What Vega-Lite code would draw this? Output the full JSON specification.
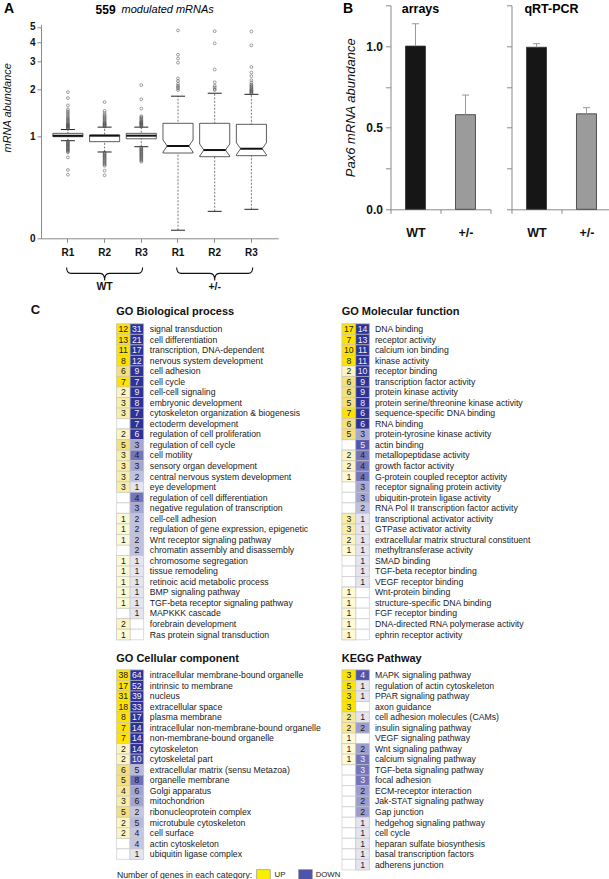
{
 "$schema": "https://vega.github.io/schema/vega-lite/v6.json",
 "background": "white",
 "padding": {"top": 1.3, "left": 1, "right": 0, "bottom": 0},
 "config": {
  "font": "Liberation Sans",
  "view": {"stroke": null},
  "axis": {"grid": false, "labelColor": "#111111", "titleColor": "#111111"},
  "title": {"color": "#111111"}
 },
 "datasets": {
  "boxes": [
   {"k": "WT R1", "lo": 0.933, "q1": 0.99, "med": 1.005, "q3": 1.04, "hi": 1.10},
   {"k": "WT R2", "lo": 0.79, "q1": 0.92, "med": 1.005, "q3": 1.015, "hi": 1.14},
   {"k": "WT R3", "lo": 0.854, "q1": 0.96, "med": 1.005, "q3": 1.04, "hi": 1.14},
   {"k": "+/- R1", "lo": 0.249, "q1": 0.778, "med": 0.863, "q3": 1.206, "hi": 1.80},
   {"k": "+/- R2", "lo": 0.329, "q1": 0.737, "med": 0.813, "q3": 1.206, "hi": 1.88},
   {"k": "+/- R3", "lo": 0.339, "q1": 0.748, "med": 0.829, "q3": 1.188, "hi": 1.85}
  ],
  "outliers": [
   {"k": "WT R1", "v": 1.11}, {"k": "WT R1", "v": 1.12}, {"k": "WT R1", "v": 1.13}, {"k": "WT R1", "v": 1.14}, {"k": "WT R1", "v": 1.15}, {"k": "WT R1", "v": 1.16}, {"k": "WT R1", "v": 1.17}, {"k": "WT R1", "v": 1.18}, {"k": "WT R1", "v": 1.19}, {"k": "WT R1", "v": 1.2}, {"k": "WT R1", "v": 1.22}, {"k": "WT R1", "v": 1.24}, {"k": "WT R1", "v": 1.26}, {"k": "WT R1", "v": 1.28}, {"k": "WT R1", "v": 1.3}, {"k": "WT R1", "v": 1.32}, {"k": "WT R1", "v": 1.35}, {"k": "WT R1", "v": 1.38}, {"k": "WT R1", "v": 1.41}, {"k": "WT R1", "v": 1.44}, {"k": "WT R1", "v": 1.48}, {"k": "WT R1", "v": 1.57}, {"k": "WT R1", "v": 1.75}, {"k": "WT R1", "v": 1.91},
   {"k": "WT R1", "v": 0.925}, {"k": "WT R1", "v": 0.915}, {"k": "WT R1", "v": 0.905}, {"k": "WT R1", "v": 0.895}, {"k": "WT R1", "v": 0.885}, {"k": "WT R1", "v": 0.875}, {"k": "WT R1", "v": 0.865}, {"k": "WT R1", "v": 0.855}, {"k": "WT R1", "v": 0.845}, {"k": "WT R1", "v": 0.835}, {"k": "WT R1", "v": 0.825}, {"k": "WT R1", "v": 0.815}, {"k": "WT R1", "v": 0.805}, {"k": "WT R1", "v": 0.795}, {"k": "WT R1", "v": 0.785}, {"k": "WT R1", "v": 0.73}, {"k": "WT R1", "v": 0.606}, {"k": "WT R1", "v": 0.565},
   {"k": "WT R2", "v": 1.15}, {"k": "WT R2", "v": 1.16}, {"k": "WT R2", "v": 1.17}, {"k": "WT R2", "v": 1.18}, {"k": "WT R2", "v": 1.19}, {"k": "WT R2", "v": 1.2}, {"k": "WT R2", "v": 1.21}, {"k": "WT R2", "v": 1.22}, {"k": "WT R2", "v": 1.24}, {"k": "WT R2", "v": 1.26}, {"k": "WT R2", "v": 1.28}, {"k": "WT R2", "v": 1.3}, {"k": "WT R2", "v": 1.32}, {"k": "WT R2", "v": 1.34}, {"k": "WT R2", "v": 1.37}, {"k": "WT R2", "v": 1.4}, {"k": "WT R2", "v": 1.45}, {"k": "WT R2", "v": 1.65},
   {"k": "WT R2", "v": 0.785}, {"k": "WT R2", "v": 0.775}, {"k": "WT R2", "v": 0.765}, {"k": "WT R2", "v": 0.755}, {"k": "WT R2", "v": 0.745}, {"k": "WT R2", "v": 0.735}, {"k": "WT R2", "v": 0.725}, {"k": "WT R2", "v": 0.715}, {"k": "WT R2", "v": 0.705}, {"k": "WT R2", "v": 0.695}, {"k": "WT R2", "v": 0.685}, {"k": "WT R2", "v": 0.675}, {"k": "WT R2", "v": 0.665}, {"k": "WT R2", "v": 0.655}, {"k": "WT R2", "v": 0.645}, {"k": "WT R2", "v": 0.6}, {"k": "WT R2", "v": 0.56},
   {"k": "WT R3", "v": 1.15}, {"k": "WT R3", "v": 1.16}, {"k": "WT R3", "v": 1.17}, {"k": "WT R3", "v": 1.18}, {"k": "WT R3", "v": 1.19}, {"k": "WT R3", "v": 1.2}, {"k": "WT R3", "v": 1.21}, {"k": "WT R3", "v": 1.22}, {"k": "WT R3", "v": 1.23}, {"k": "WT R3", "v": 1.24}, {"k": "WT R3", "v": 1.26}, {"k": "WT R3", "v": 1.28}, {"k": "WT R3", "v": 1.3}, {"k": "WT R3", "v": 1.32}, {"k": "WT R3", "v": 1.34}, {"k": "WT R3", "v": 1.5}, {"k": "WT R3", "v": 1.72}, {"k": "WT R3", "v": 2.12},
   {"k": "WT R3", "v": 0.845}, {"k": "WT R3", "v": 0.835}, {"k": "WT R3", "v": 0.825}, {"k": "WT R3", "v": 0.815}, {"k": "WT R3", "v": 0.805}, {"k": "WT R3", "v": 0.795}, {"k": "WT R3", "v": 0.785}, {"k": "WT R3", "v": 0.775}, {"k": "WT R3", "v": 0.765}, {"k": "WT R3", "v": 0.755}, {"k": "WT R3", "v": 0.745}, {"k": "WT R3", "v": 0.735}, {"k": "WT R3", "v": 0.725}, {"k": "WT R3", "v": 0.715}, {"k": "WT R3", "v": 0.705}, {"k": "WT R3", "v": 0.695}, {"k": "WT R3", "v": 0.685},
   {"k": "+/- R1", "v": 1.97}, {"k": "+/- R1", "v": 2.02}, {"k": "+/- R1", "v": 2.06}, {"k": "+/- R1", "v": 2.1}, {"k": "+/- R1", "v": 2.16}, {"k": "+/- R1", "v": 2.25}, {"k": "+/- R1", "v": 2.34}, {"k": "+/- R1", "v": 2.95}, {"k": "+/- R1", "v": 3.14}, {"k": "+/- R1", "v": 3.32}, {"k": "+/- R1", "v": 4.75},
   {"k": "+/- R2", "v": 1.97}, {"k": "+/- R2", "v": 2.0}, {"k": "+/- R2", "v": 2.05}, {"k": "+/- R2", "v": 2.1}, {"k": "+/- R2", "v": 2.21}, {"k": "+/- R2", "v": 2.67}, {"k": "+/- R2", "v": 3.92}, {"k": "+/- R2", "v": 4.7},
   {"k": "+/- R3", "v": 1.87}, {"k": "+/- R3", "v": 1.89}, {"k": "+/- R3", "v": 1.91}, {"k": "+/- R3", "v": 1.93}, {"k": "+/- R3", "v": 1.95}, {"k": "+/- R3", "v": 1.97}, {"k": "+/- R3", "v": 1.99}, {"k": "+/- R3", "v": 2.02}, {"k": "+/- R3", "v": 2.05}, {"k": "+/- R3", "v": 2.08}, {"k": "+/- R3", "v": 2.11}, {"k": "+/- R3", "v": 2.14}, {"k": "+/- R3", "v": 2.2}, {"k": "+/- R3", "v": 2.28}, {"k": "+/- R3", "v": 2.42}, {"k": "+/- R3", "v": 2.55}, {"k": "+/- R3", "v": 2.77}, {"k": "+/- R3", "v": 3.81}, {"k": "+/- R3", "v": 4.68}
  ],
  "pax": [
   {"panel": "arrays", "g": "WT", "v": 1.0, "err": 1.137},
   {"panel": "arrays", "g": "+/-", "v": 0.58, "err": 0.70},
   {"panel": "qRT", "g": "WT", "v": 0.993, "err": 1.015},
   {"panel": "qRT", "g": "+/-", "v": 0.585, "err": 0.623}
  ],
  "bp": [
   {"term": "signal transduction", "UP": 12, "DOWN": 31},
   {"term": "cell differentiation", "UP": 13, "DOWN": 21},
   {"term": "transcription, DNA-dependent", "UP": 11, "DOWN": 17},
   {"term": "nervous system development", "UP": 8, "DOWN": 12},
   {"term": "cell adhesion", "UP": 6, "DOWN": 9},
   {"term": "cell cycle", "UP": 7, "DOWN": 7},
   {"term": "cell-cell signaling", "UP": 2, "DOWN": 9},
   {"term": "embryonic development", "UP": 3, "DOWN": 8},
   {"term": "cytoskeleton organization  & biogenesis", "UP": 3, "DOWN": 7},
   {"term": "ectoderm development", "UP": null, "DOWN": 7},
   {"term": "regulation of cell proliferation", "UP": 2, "DOWN": 6},
   {"term": "regulation of cell cycle", "UP": 5, "DOWN": 3},
   {"term": "cell motility", "UP": 3, "DOWN": 4},
   {"term": "sensory organ development", "UP": 3, "DOWN": 3},
   {"term": "central nervous system development", "UP": 3, "DOWN": 2},
   {"term": "eye development", "UP": 3, "DOWN": 1},
   {"term": "regulation of cell differentiation", "UP": null, "DOWN": 4},
   {"term": "negative regulation of transcription", "UP": null, "DOWN": 3},
   {"term": "cell-cell adhesion", "UP": 1, "DOWN": 2},
   {"term": "regulation of gene expression, epigenetic", "UP": 1, "DOWN": 2},
   {"term": "Wnt receptor signaling pathway", "UP": 1, "DOWN": 2},
   {"term": "chromatin assembly and disassembly", "UP": null, "DOWN": 2},
   {"term": "chromosome segregation", "UP": 1, "DOWN": 1},
   {"term": "tissue remodeling", "UP": 1, "DOWN": 1},
   {"term": "retinoic acid metabolic process", "UP": 1, "DOWN": 1},
   {"term": "BMP signaling pathway", "UP": 1, "DOWN": 1},
   {"term": "TGF-beta receptor signaling pathway", "UP": 1, "DOWN": 1},
   {"term": "MAPKKK cascade", "UP": null, "DOWN": 1},
   {"term": "forebrain development", "UP": 2, "DOWN": null},
   {"term": "Ras protein signal transduction", "UP": 1, "DOWN": null}
  ],
  "mf": [
   {"term": "DNA binding", "UP": 17, "DOWN": 14},
   {"term": "receptor activity", "UP": 7, "DOWN": 13},
   {"term": "calcium ion binding", "UP": 10, "DOWN": 11},
   {"term": "kinase activity", "UP": 8, "DOWN": 11},
   {"term": "receptor binding", "UP": 2, "DOWN": 10},
   {"term": "transcription factor activity", "UP": 6, "DOWN": 9},
   {"term": "protein kinase activity", "UP": 6, "DOWN": 9},
   {"term": "protein serine/threonine kinase activity", "UP": 5, "DOWN": 8},
   {"term": "sequence-specific DNA binding", "UP": 7, "DOWN": 6},
   {"term": "RNA binding", "UP": 6, "DOWN": 6},
   {"term": "protein-tyrosine kinase activity", "UP": 5, "DOWN": 3},
   {"term": "actin binding", "UP": null, "DOWN": 5},
   {"term": "metallopeptidase activity", "UP": 2, "DOWN": 4},
   {"term": "growth factor activity", "UP": 2, "DOWN": 4},
   {"term": "G-protein coupled receptor activity", "UP": 1, "DOWN": 4},
   {"term": "receptor signaling protein activity", "UP": null, "DOWN": 3},
   {"term": "ubiquitin-protein ligase activity", "UP": null, "DOWN": 3},
   {"term": "RNA Pol II transcription factor activity", "UP": null, "DOWN": 2},
   {"term": "transcriptional activator activity", "UP": 3, "DOWN": 1},
   {"term": "GTPase activator activity", "UP": 3, "DOWN": 1},
   {"term": "extracellular matrix structural constituent", "UP": 2, "DOWN": 1},
   {"term": "methyltransferase activity", "UP": 1, "DOWN": 1},
   {"term": "SMAD binding", "UP": null, "DOWN": 1},
   {"term": "TGF-beta receptor binding", "UP": null, "DOWN": 1},
   {"term": "VEGF receptor binding", "UP": null, "DOWN": 1},
   {"term": "Wnt-protein binding", "UP": 1, "DOWN": null},
   {"term": "structure-specific DNA binding", "UP": 1, "DOWN": null},
   {"term": "FGF receptor binding", "UP": 1, "DOWN": null},
   {"term": "DNA-directed RNA polymerase activity", "UP": 1, "DOWN": null},
   {"term": "ephrin receptor activity", "UP": 1, "DOWN": null}
  ],
  "cc": [
   {"term": "intracellular membrane-bound organelle", "UP": 38, "DOWN": 64},
   {"term": "intrinsic to membrane", "UP": 17, "DOWN": 52},
   {"term": "nucleus", "UP": 31, "DOWN": 39},
   {"term": "extracellular space", "UP": 18, "DOWN": 33},
   {"term": "plasma membrane", "UP": 8, "DOWN": 17},
   {"term": "intracellular non-membrane-bound organelle", "UP": 7, "DOWN": 14},
   {"term": "non-membrane-bound organelle", "UP": 7, "DOWN": 14},
   {"term": "cytoskeleton", "UP": 2, "DOWN": 14},
   {"term": "cytoskeletal part", "UP": 2, "DOWN": 10},
   {"term": "extracellular matrix (sensu Metazoa)", "UP": 6, "DOWN": 5},
   {"term": "organelle membrane", "UP": 5, "DOWN": 8},
   {"term": "Golgi apparatus", "UP": 4, "DOWN": 6},
   {"term": "mitochondrion", "UP": 3, "DOWN": 6},
   {"term": "ribonucleoprotein complex", "UP": 5, "DOWN": 2},
   {"term": "microtubule cytoskeleton", "UP": 2, "DOWN": 5},
   {"term": "cell surface", "UP": 2, "DOWN": 4},
   {"term": "actin cytoskeleton", "UP": null, "DOWN": 4},
   {"term": "ubiquitin ligase complex", "UP": null, "DOWN": 1}
  ],
  "kegg": [
   {"term": "MAPK signaling pathway", "UP": 3, "DOWN": 4},
   {"term": "regulation of actin cytoskeleton", "UP": 5, "DOWN": 1},
   {"term": "PPAR signaling pathway", "UP": 3, "DOWN": 1},
   {"term": "axon guidance", "UP": 3, "DOWN": null},
   {"term": "cell adhesion molecules (CAMs)", "UP": 2, "DOWN": 1},
   {"term": "insulin signaling pathway", "UP": 2, "DOWN": 2},
   {"term": "VEGF signaling pathway", "UP": 1, "DOWN": null},
   {"term": "Wnt signaling pathway", "UP": 1, "DOWN": 2},
   {"term": "calcium signaling pathway", "UP": 1, "DOWN": 3},
   {"term": "TGF-beta signaling pathway", "UP": null, "DOWN": 3},
   {"term": "focal adhesion", "UP": null, "DOWN": 3},
   {"term": "ECM-receptor interaction", "UP": null, "DOWN": 2},
   {"term": "Jak-STAT signaling pathway", "UP": null, "DOWN": 2},
   {"term": "Gap junction", "UP": null, "DOWN": 2},
   {"term": "hedgehog signaling pathway", "UP": null, "DOWN": 1},
   {"term": "cell cycle", "UP": null, "DOWN": 1},
   {"term": "heparan sulfate biosynthesis", "UP": null, "DOWN": 1},
   {"term": "basal transcription factors", "UP": null, "DOWN": 1},
   {"term": "adherens junction", "UP": null, "DOWN": 1}
  ]
 },
 "vconcat": [
  {
   "spacing": 63.5,
   "hconcat": [
    {
     "spacing": 5,
     "vconcat": [
      {
       "width": 237.3,
       "height": 8,
       "layer": [
        {
         "data": {"values": [{"t": "A"}]},
         "mark": {"type": "text", "fontSize": 14, "fontWeight": "bold", "align": "left", "baseline": "middle", "dx": -64},
         "encoding": {"x": {"datum": "WT R1", "type": "nominal", "scale": {"type": "band", "domain": ["WT R1", "WT R2", "WT R3", "+/- R1", "+/- R2", "+/- R3"], "paddingInner": 0, "paddingOuter": 0.233}, "axis": null}, "text": {"field": "t"}}
        },
        {
         "data": {"values": [{"t": "559"}]},
         "mark": {"type": "text", "fontSize": 12, "fontWeight": "bold", "align": "center", "baseline": "middle", "dx": 1, "dy": 1},
         "encoding": {"x": {"datum": "WT R2", "type": "nominal"}, "text": {"field": "t"}}
        },
        {
         "data": {"values": [{"t": "modulated mRNAs"}]},
         "mark": {"type": "text", "fontSize": 11, "fontStyle": "italic", "align": "left", "baseline": "middle", "dx": 17, "dy": 1},
         "encoding": {"x": {"datum": "WT R2", "type": "nominal"}, "text": {"field": "t"}}
        }
       ]
      },
      {
       "spacing": 8,
       "vconcat": [
        {
         "width": 237.3,
         "height": 214,
         "encoding": {
          "x": {"field": "k", "type": "nominal", "scale": {"type": "band", "domain": ["WT R1", "WT R2", "WT R3", "+/- R1", "+/- R2", "+/- R3"], "paddingInner": 0, "paddingOuter": 0.233},
                "axis": {"title": null, "labelExpr": "slice(datum.label, -2)", "labelAngle": 0, "labelFontWeight": "bold", "labelFontSize": 10, "tickSize": 4, "tickColor": "#8a8a8a", "domainColor": "#8a8a8a", "labelPadding": 5}}
         },
         "layer": [
          {
           "data": {"name": "boxes"},
           "mark": {"type": "rule", "strokeDash": [2, 1.5], "color": "#444444", "strokeWidth": 0.7},
           "encoding": {
            "y": {"field": "lo", "type": "quantitative", "title": "mRNA abundance", "scale": {"type": "log", "base": 2, "domain": [0.221, 5.2], "nice": false},
                  "axis": {"values": [0.221, 1, 2, 3, 4, 5], "labelExpr": "datum.value < 0.5 ? '0' : format(datum.value, 'd')", "tickSize": 4, "tickColor": "#8a8a8a", "domainColor": "#8a8a8a", "labelFontWeight": "bold", "labelFontSize": 10, "labelPadding": 2, "titleFontStyle": "italic", "titleFontWeight": "normal", "titleFontSize": 11, "titlePadding": 17, "titleY": 83}},
            "y2": {"field": "hi"}
           }
          },
          {
           "data": {"name": "boxes"},
           "mark": {"type": "bar", "fill": "#ffffff", "stroke": "#333333", "strokeWidth": 0.8, "width": {"band": 0.82}},
           "encoding": {"y": {"field": "q1", "type": "quantitative", "title": "mRNA abundance"}, "y2": {"field": "q3"}}
          },
          {
           "data": {"name": "boxes"},
           "mark": {"type": "tick", "color": "#111111", "thickness": 2, "size": 30, "opacity": 1},
           "encoding": {"y": {"field": "med", "type": "quantitative", "title": "mRNA abundance"}}
          },
          {
           "data": {"name": "boxes"},
           "transform": [{"filter": "indexof(datum.k, '+') == 0"}],
           "mark": {"type": "point", "shape": "M-1.1,-0.4 L-1,-0.4 L-0.72,0 L-1,0.4 L-1.1,0.4 Z M1.1,-0.4 L1,-0.4 L0.72,0 L1,0.4 L1.1,0.4 Z", "size": 900, "filled": true, "fill": "#ffffff", "strokeWidth": 0, "opacity": 1},
           "encoding": {"y": {"field": "med", "type": "quantitative", "title": "mRNA abundance"}}
          },
          {
           "data": {"name": "boxes"},
           "transform": [{"filter": "indexof(datum.k, '+') == 0"}],
           "mark": {"type": "point", "shape": "M-1,-0.4 L-0.72,0 L-1,0.4 M1,-0.4 L0.72,0 L1,0.4", "size": 900, "filled": false, "stroke": "#333333", "strokeWidth": 0.8, "opacity": 1},
           "encoding": {"y": {"field": "med", "type": "quantitative", "title": "mRNA abundance"}}
          },
          {
           "data": {"name": "boxes"},
           "mark": {"type": "tick", "color": "#222222", "thickness": 1, "size": 14, "opacity": 1},
           "encoding": {"y": {"field": "lo", "type": "quantitative", "title": "mRNA abundance"}}
          },
          {
           "data": {"name": "boxes"},
           "mark": {"type": "tick", "color": "#222222", "thickness": 1, "size": 14, "opacity": 1},
           "encoding": {"y": {"field": "hi", "type": "quantitative", "title": "mRNA abundance"}}
          },
          {
           "data": {"name": "outliers"},
           "mark": {"type": "point", "shape": "circle", "filled": false, "size": 8, "color": "#505050", "strokeWidth": 0.6, "opacity": 0.9},
           "encoding": {"y": {"field": "v", "type": "quantitative", "title": "mRNA abundance"}}
          }
         ]
        },
        {
         "width": 237.3,
         "height": 20,
         "data": {"values": [{"g": "WT", "a": "WT R1", "m": "WT R2", "b": "WT R3"}, {"g": "+/-", "a": "+/- R1", "m": "+/- R2", "b": "+/- R3"}]},
         "layer": [
          {
           "mark": {"type": "point", "shape": "M-1,-0.17 Q-1,-0.015 -0.88,-0.015 L-0.12,-0.015 Q0,-0.015 0,0.17 Q0,-0.015 0.12,-0.015 L0.88,-0.015 Q1,-0.015 1,-0.17", "size": 5776, "filled": false, "stroke": "#111111", "strokeWidth": 1.1, "opacity": 1},
           "encoding": {
            "x": {"field": "m", "type": "nominal", "scale": {"type": "band", "domain": ["WT R1", "WT R2", "WT R3", "+/- R1", "+/- R2", "+/- R3"], "paddingInner": 0, "paddingOuter": 0.233}, "axis": null},
            "y": {"datum": "mid", "type": "ordinal", "scale": {"type": "point", "domain": ["top", "mid", "tip", "lbl"], "padding": 0}, "axis": null}
           }
          },
          {
           "mark": {"type": "text", "fontSize": 10.5, "fontWeight": "bold", "baseline": "middle", "color": "#111111"},
           "encoding": {"x": {"field": "m", "type": "nominal"}, "y": {"datum": "lbl", "type": "ordinal"}, "text": {"field": "g"}}
          }
         ]
        }
       ]
      }
     ]
    },
    {
     "spacing": 14,
     "hconcat": [
      {
       "width": 100,
       "height": 204,
       "data": {"name": "pax"},
       "encoding": {
        "x": {"field": "g", "type": "nominal", "scale": {"domain": ["WT", "+/-"], "paddingInner": 0, "paddingOuter": 0},
              "axis": {"title": null, "labelAngle": 0, "labelFontWeight": "bold", "labelFontSize": 12.5, "tickBand": "extent", "tickSize": 4, "tickColor": "#8a8a8a", "domainColor": "#8a8a8a", "labelPadding": 13}}
       },
       "layer": [
        {
         "transform": [{"filter": "datum.panel == 'arrays'"}],
         "mark": {"type": "bar", "stroke": "#333333", "strokeWidth": 0.8, "width": {"band": 0.4}},
         "encoding": {
          "y": {"field": "v", "type": "quantitative", "title": "Pax6 mRNA abundance", "scale": {"domain": [0, 1.25], "nice": false},
                "axis": {"values": [0, 0.25, 0.5, 0.75, 1, 1.25], "labelExpr": "datum.value == 0 || datum.value == 0.5 || datum.value == 1 ? format(datum.value, '.1f') : ''", "tickSize": 5, "tickColor": "#8a8a8a", "domainColor": "#8a8a8a", "labelFontWeight": "bold", "labelFontSize": 12, "labelPadding": 3, "titleFontStyle": "italic", "titleFontWeight": "normal", "titleFontSize": 13, "titlePadding": 8}},
          "color": {"field": "g", "type": "nominal", "scale": {"domain": ["WT", "+/-"], "range": ["#161616", "#9b9b9b"]}, "legend": null}
         }
        },
        {
         "transform": [{"filter": "datum.panel == 'arrays'"}],
         "mark": {"type": "rule", "color": "#9a9a9a", "strokeWidth": 1},
         "encoding": {"y": {"field": "v", "type": "quantitative", "title": "Pax6 mRNA abundance"}, "y2": {"field": "err"}}
        },
        {
         "transform": [{"filter": "datum.panel == 'arrays'"}],
         "mark": {"type": "tick", "color": "#9a9a9a", "thickness": 1, "size": 7, "opacity": 1},
         "encoding": {"y": {"field": "err", "type": "quantitative", "title": "Pax6 mRNA abundance"}}
        },
        {
         "data": {"values": [{"t": "B"}]},
         "mark": {"type": "text", "fontSize": 14, "fontWeight": "bold", "align": "center", "baseline": "middle", "dx": -67.5},
         "encoding": {"x": {"datum": "WT", "type": "nominal"}, "y": {"datum": 1.23, "type": "quantitative"}, "text": {"field": "t"}}
        },
        {
         "data": {"values": [{"t": "arrays"}]},
         "mark": {"type": "text", "fontSize": 12.5, "fontWeight": "bold", "align": "center", "baseline": "middle", "dx": 5},
         "encoding": {"x": {"datum": "WT", "type": "nominal"}, "y": {"datum": 1.23, "type": "quantitative"}, "text": {"field": "t"}}
        }
       ]
      },
      {
       "width": 100,
       "height": 204,
       "data": {"name": "pax"},
       "encoding": {
        "x": {"field": "g", "type": "nominal", "scale": {"domain": ["WT", "+/-"], "paddingInner": 0, "paddingOuter": 0},
              "axis": {"title": null, "labelAngle": 0, "labelFontWeight": "bold", "labelFontSize": 12.5, "tickBand": "extent", "tickSize": 4, "tickColor": "#8a8a8a", "domainColor": "#8a8a8a", "labelPadding": 13}}
       },
       "layer": [
        {
         "transform": [{"filter": "datum.panel == 'qRT'"}],
         "mark": {"type": "bar", "stroke": "#333333", "strokeWidth": 0.8, "width": {"band": 0.4}},
         "encoding": {
          "y": {"field": "v", "type": "quantitative", "title": null, "scale": {"domain": [0, 1.25], "nice": false},
                "axis": {"values": [0, 0.25, 0.5, 0.75, 1, 1.25], "labels": false, "tickSize": 5, "tickColor": "#8a8a8a", "domainColor": "#8a8a8a", "title": null}},
          "color": {"field": "g", "type": "nominal", "scale": {"domain": ["WT", "+/-"], "range": ["#161616", "#9b9b9b"]}, "legend": null}
         }
        },
        {
         "transform": [{"filter": "datum.panel == 'qRT'"}],
         "mark": {"type": "rule", "color": "#9a9a9a", "strokeWidth": 1},
         "encoding": {"y": {"field": "v", "type": "quantitative", "title": null}, "y2": {"field": "err"}}
        },
        {
         "transform": [{"filter": "datum.panel == 'qRT'"}],
         "mark": {"type": "tick", "color": "#9a9a9a", "thickness": 1, "size": 7, "opacity": 1},
         "encoding": {"y": {"field": "err", "type": "quantitative", "title": null}}
        },
        {
         "data": {"values": [{"t": "qRT-PCR"}]},
         "mark": {"type": "text", "fontSize": 12.5, "fontWeight": "bold", "align": "center", "baseline": "middle", "dx": 15},
         "encoding": {"x": {"datum": "WT", "type": "nominal"}, "y": {"datum": 1.23, "type": "quantitative"}, "text": {"field": "t"}}
        }
       ]
      }
     ]
    }
   ]
  },
  {
   "spacing": 0,
   "hconcat": [
    {
     "spacing": 70.6,
     "hconcat": [
      {
       "width": 1,
       "height": 1,
       "data": {"values": [{}]},
       "mark": {"type": "point", "opacity": 0},
       "title": {"text": "C", "anchor": "end", "fontSize": 13, "fontWeight": "bold", "offset": 5, "dx": -4}
      },
      {
       "spacing": 11.1,
       "vconcat": [
        {
         "title": {"text": "GO Biological process", "anchor": "start", "fontSize": 11, "fontWeight": "bold", "offset": 6},
         "width": 27,
         "height": 316,
         "data": {"name": "bp"},
         "transform": [{"fold": ["UP", "DOWN"], "as": ["dir", "n"]}],
         "encoding": {
          "x": {"field": "dir", "type": "nominal", "scale": {"domain": ["UP", "DOWN"], "paddingInner": 0, "paddingOuter": 0}, "axis": null},
          "y": {"field": "term", "type": "nominal", "sort": null, "scale": {"paddingInner": 0, "paddingOuter": 0}, "axis": {"orient": "right", "domain": false, "ticks": false, "labelPadding": 5.7, "labelFontSize": 8.7, "labelLimit": 400, "title": null, "labelColor": "#1a1a1a"}}
         },
         "layer": [
          {"mark": {"type": "rect", "fill": "#ffffff", "stroke": "#c4c4c4", "strokeWidth": 0.6}},
          {
           "transform": [{"filter": "datum.dir == 'UP' && datum.n != null"}],
           "mark": {"type": "rect", "stroke": "#c4c4c4", "strokeWidth": 0.6},
           "encoding": {"color": {"field": "n", "type": "quantitative", "scale": {"type": "threshold", "domain": [2, 3, 5, 7], "range": ["#fefad6", "#fcf5c2", "#f9eea8", "#f4e07c", "#fde300"]}, "legend": null}}
          },
          {
           "transform": [{"filter": "datum.dir == 'DOWN' && datum.n != null"}],
           "mark": {"type": "rect", "stroke": "#c4c4c4", "strokeWidth": 0.6},
           "encoding": {"color": {"field": "n", "type": "quantitative", "scale": {"type": "threshold", "domain": [2, 3, 4, 5, 6], "range": ["#e5e5f1", "#c0c0e0", "#a6a6d3", "#7575bc", "#5456ac", "#2e3296"]}, "legend": null}}
          },
          {
           "transform": [{"filter": "datum.n != null"}],
           "mark": {"type": "text", "fontSize": 8.7, "baseline": "middle"},
           "encoding": {"text": {"field": "n", "type": "quantitative"}, "color": {"condition": {"test": "datum.dir == 'DOWN' && datum.n >= 6", "value": "#eeeefa"}, "value": "#1a1a1a"}}
          }
         ],
         "resolve": {"scale": {"color": "independent"}}
        },
        {
         "spacing": 8.7,
         "vconcat": [
          {
           "title": {"text": "GO Cellular component", "anchor": "start", "fontSize": 11, "fontWeight": "bold", "offset": 6},
           "width": 27,
           "height": 189.5,
           "data": {"name": "cc"},
           "transform": [{"fold": ["UP", "DOWN"], "as": ["dir", "n"]}],
           "encoding": {
            "x": {"field": "dir", "type": "nominal", "scale": {"domain": ["UP", "DOWN"], "paddingInner": 0, "paddingOuter": 0}, "axis": null},
            "y": {"field": "term", "type": "nominal", "sort": null, "scale": {"paddingInner": 0, "paddingOuter": 0}, "axis": {"orient": "right", "domain": false, "ticks": false, "labelPadding": 5.7, "labelFontSize": 8.7, "labelLimit": 400, "title": null, "labelColor": "#1a1a1a"}}
           },
           "layer": [
            {"mark": {"type": "rect", "fill": "#ffffff", "stroke": "#c4c4c4", "strokeWidth": 0.6}},
            {
             "transform": [{"filter": "datum.dir == 'UP' && datum.n != null"}],
             "mark": {"type": "rect", "stroke": "#c4c4c4", "strokeWidth": 0.6},
             "encoding": {"color": {"field": "n", "type": "quantitative", "scale": {"type": "threshold", "domain": [2, 3, 4, 5, 7], "range": ["#fefad6", "#fcf5c2", "#f9eea8", "#f7e898", "#f4e07c", "#fde300"]}, "legend": null}}
            },
            {
             "transform": [{"filter": "datum.dir == 'DOWN' && datum.n != null"}],
             "mark": {"type": "rect", "stroke": "#c4c4c4", "strokeWidth": 0.6},
             "encoding": {"color": {"field": "n", "type": "quantitative", "scale": {"type": "threshold", "domain": [2, 5, 6, 8, 10, 11], "range": ["#e5e5f1", "#c6c6e3", "#b8b8dc", "#a3a3d1", "#6f70b8", "#42469f", "#2e3296"]}, "legend": null}}
            },
            {
             "transform": [{"filter": "datum.n != null"}],
             "mark": {"type": "text", "fontSize": 8.7, "baseline": "middle"},
             "encoding": {"text": {"field": "n", "type": "quantitative"}, "color": {"condition": {"test": "datum.dir == 'DOWN' && datum.n >= 10", "value": "#eeeefa"}, "value": "#1a1a1a"}}
            }
           ],
           "resolve": {"scale": {"color": "independent"}}
          },
          {
           "spacing": 3,
           "hconcat": [
            {
             "width": 136,
             "height": 10,
             "data": {"values": [{"t": "Number of genes in each category:"}]},
             "mark": {"type": "text", "fontSize": 8.7, "baseline": "middle", "color": "#1a1a1a"},
             "encoding": {"text": {"field": "t"}}
            },
            {
             "spacing": 12,
             "hconcat": [
              {
               "spacing": 3,
               "hconcat": [
                {
                 "width": 13.7,
                 "height": 10,
                 "data": {"values": [{"c": "UP"}]},
                 "mark": {"type": "rect", "color": "#fbef00", "stroke": "#888888", "strokeWidth": 0.6}
                },
                {
                 "width": 10.8,
                 "height": 10,
                 "data": {"values": [{"c": "UP"}]},
                 "mark": {"type": "text", "fontSize": 7.8, "baseline": "middle", "color": "#1a1a1a"},
                 "encoding": {"text": {"field": "c"}}
                }
               ]
              },
              {
               "spacing": 3,
               "hconcat": [
                {
                 "width": 13.7,
                 "height": 10,
                 "data": {"values": [{"c": "DOWN"}]},
                 "mark": {"type": "rect", "color": "#5053aa", "stroke": "#888888", "strokeWidth": 0.6}
                },
                {
                 "width": 24.7,
                 "height": 10,
                 "data": {"values": [{"c": "DOWN"}]},
                 "mark": {"type": "text", "fontSize": 7.8, "baseline": "middle", "color": "#1a1a1a"},
                 "encoding": {"text": {"field": "c"}}
                }
               ]
              }
             ]
            }
           ]
          }
         ]
        }
       ]
      }
     ]
    },
    {
     "spacing": 11.1,
     "vconcat": [
      {
       "title": {"text": "GO Molecular function", "anchor": "start", "fontSize": 11, "fontWeight": "bold", "offset": 6},
       "width": 27.4,
       "height": 316,
       "data": {"name": "mf"},
       "transform": [{"fold": ["UP", "DOWN"], "as": ["dir", "n"]}],
       "encoding": {
        "x": {"field": "dir", "type": "nominal", "scale": {"domain": ["UP", "DOWN"], "paddingInner": 0, "paddingOuter": 0}, "axis": null},
        "y": {"field": "term", "type": "nominal", "sort": null, "scale": {"paddingInner": 0, "paddingOuter": 0}, "axis": {"orient": "right", "domain": false, "ticks": false, "labelPadding": 5, "labelFontSize": 8.7, "labelLimit": 400, "title": null, "labelColor": "#1a1a1a"}}
       },
       "layer": [
        {"mark": {"type": "rect", "fill": "#ffffff", "stroke": "#c4c4c4", "strokeWidth": 0.6}},
        {
         "transform": [{"filter": "datum.dir == 'UP' && datum.n != null"}],
         "mark": {"type": "rect", "stroke": "#c4c4c4", "strokeWidth": 0.6},
         "encoding": {"color": {"field": "n", "type": "quantitative", "scale": {"type": "threshold", "domain": [2, 3, 5, 7], "range": ["#fefad6", "#fcf5c2", "#f9eea8", "#f4e07c", "#fde300"]}, "legend": null}}
        },
        {
         "transform": [{"filter": "datum.dir == 'DOWN' && datum.n != null"}],
         "mark": {"type": "rect", "stroke": "#c4c4c4", "strokeWidth": 0.6},
         "encoding": {"color": {"field": "n", "type": "quantitative", "scale": {"type": "threshold", "domain": [2, 3, 4, 5, 6], "range": ["#e5e5f1", "#c0c0e0", "#a6a6d3", "#7575bc", "#5456ac", "#2e3296"]}, "legend": null}}
        },
        {
         "transform": [{"filter": "datum.n != null"}],
         "mark": {"type": "text", "fontSize": 8.7, "baseline": "middle"},
         "encoding": {"text": {"field": "n", "type": "quantitative"}, "color": {"condition": {"test": "datum.dir == 'DOWN' && datum.n >= 5", "value": "#eeeefa"}, "value": "#1a1a1a"}}
        }
       ],
       "resolve": {"scale": {"color": "independent"}}
      },
      {
       "title": {"text": "KEGG Pathway", "anchor": "start", "fontSize": 11, "fontWeight": "bold", "offset": 6},
       "width": 27.4,
       "height": 200,
       "data": {"name": "kegg"},
       "transform": [{"fold": ["UP", "DOWN"], "as": ["dir", "n"]}],
       "encoding": {
        "x": {"field": "dir", "type": "nominal", "scale": {"domain": ["UP", "DOWN"], "paddingInner": 0, "paddingOuter": 0}, "axis": null},
        "y": {"field": "term", "type": "nominal", "sort": null, "scale": {"paddingInner": 0, "paddingOuter": 0}, "axis": {"orient": "right", "domain": false, "ticks": false, "labelPadding": 5, "labelFontSize": 8.7, "labelLimit": 400, "title": null, "labelColor": "#1a1a1a"}}
       },
       "layer": [
        {"mark": {"type": "rect", "fill": "#ffffff", "stroke": "#c4c4c4", "strokeWidth": 0.6}},
        {
         "transform": [{"filter": "datum.dir == 'UP' && datum.n != null"}],
         "mark": {"type": "rect", "stroke": "#c4c4c4", "strokeWidth": 0.6},
         "encoding": {"color": {"field": "n", "type": "quantitative", "scale": {"type": "threshold", "domain": [2, 3], "range": ["#fefad6", "#f7e992", "#fde300"]}, "legend": null}}
        },
        {
         "transform": [{"filter": "datum.dir == 'DOWN' && datum.n != null"}],
         "mark": {"type": "rect", "stroke": "#c4c4c4", "strokeWidth": 0.6},
         "encoding": {"color": {"field": "n", "type": "quantitative", "scale": {"type": "threshold", "domain": [2, 3, 4, 5], "range": ["#e5e5f1", "#9c9cce", "#7373ba", "#5053aa", "#2e3296"]}, "legend": null}}
        },
        {
         "transform": [{"filter": "datum.n != null"}],
         "mark": {"type": "text", "fontSize": 8.7, "baseline": "middle"},
         "encoding": {"text": {"field": "n", "type": "quantitative"}, "color": {"condition": {"test": "datum.dir == 'DOWN' && datum.n >= 3", "value": "#eeeefa"}, "value": "#1a1a1a"}}
        }
       ],
       "resolve": {"scale": {"color": "independent"}}
      }
     ]
    }
   ]
  }
 ],
 "spacing": 9.5
}
